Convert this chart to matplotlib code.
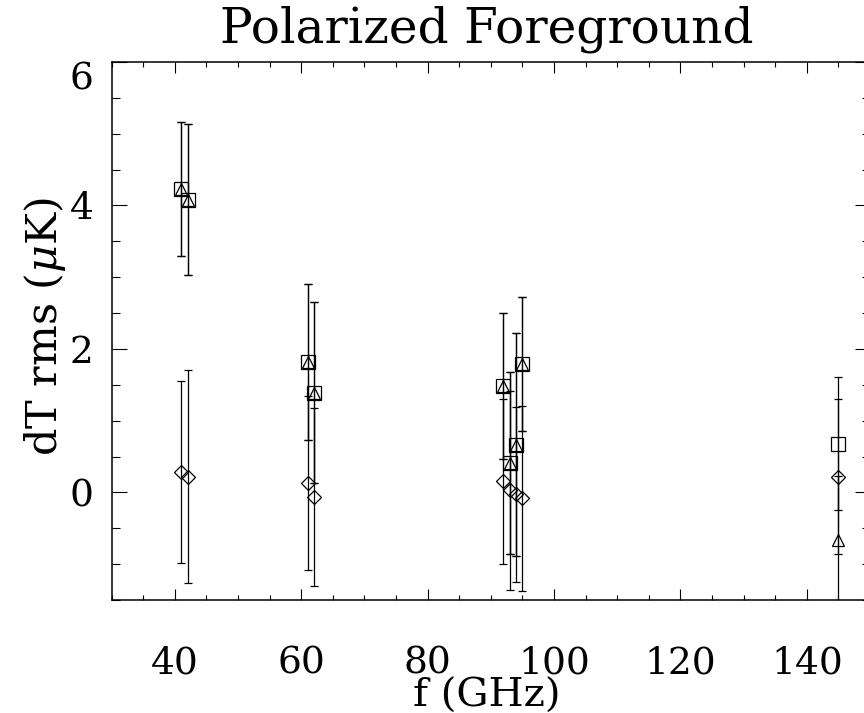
"""Polarized foreground rms vs frequency."""

import matplotlib

matplotlib.use("Agg")
import matplotlib.pyplot as plt
from matplotlib.ticker import MultipleLocator

# values
freq = [41, 42, 61, 62, 92, 93, 94, 95, 145]
square_val = [4.23, 4.08, 1.815, 1.39, 1.486, 0.41, 0.667, 1.79, 0.68]
square_err = [0.93, 1.05, 1.085, 1.265, 1.02, 1.27, 1.56, 0.94, 0.93]
triangle_val = [4.23, 4.08, 1.815, 1.39, 1.486, 0.41, 0.667, 1.79, -0.67]
triangle_err = [0.93, 1.05, 1.085, 1.265, 1.02, 1.27, 1.56, 0.94, 0.9]
diamond_val = [0.28, 0.22, 0.13, -0.07, 0.157, 0.028, -0.028, -0.083, 0.22]
diamond_err = [1.27, 1.48, 1.21, 1.24, 1.15, 1.39, 1.22, 1.29, 1.08]
y_ticks = [0, 2, 4, 6]

plt.rcParams["font.family"] = ["DejaVu Serif"]
plt.rcParams["mathtext.fontset"] = "dejavuserif"

fig = plt.figure(figsize=(8.64, 7.13), dpi=100)
ax = fig.add_axes([111.7 / 864, 113 / 713, 758.3 / 864, 538 / 713])

common = dict(fmt="none", ecolor="black", elinewidth=0.9, capsize=3, capthick=0.9)
ax.errorbar(freq, square_val, yerr=square_err, **common)
ax.errorbar(freq, triangle_val, yerr=triangle_err, **common)
ax.errorbar(freq, diamond_val, yerr=diamond_err, **common)

mk = dict(linestyle="none", color="black", fillstyle="none", markeredgewidth=0.9)
ax.plot(freq, square_val, marker="s", markersize=9.8, **mk)
ax.plot(freq, triangle_val, marker="^", markersize=9.2, **mk)
ax.plot(freq, diamond_val, marker="D", markersize=7, **mk)

ax.set_xlim(30, 150)
ax.set_ylim(-1.5, 6)
ax.xaxis.set_major_locator(MultipleLocator(20))
ax.xaxis.set_minor_locator(MultipleLocator(5))
ax.set_yticks(y_ticks)
ylabels = ax.set_yticklabels([str(v) for v in y_ticks])
ylabels[-1].set_verticalalignment("top")
ax.yaxis.set_minor_locator(MultipleLocator(0.5))

for s in ax.spines.values():
    s.set_linewidth(1.1)
ax.tick_params(which="both", direction="in", top=True, right=True, width=0.8, colors="black")
ax.tick_params(axis="x", which="major", length=8, pad=33, labelsize=27)
ax.tick_params(axis="x", which="minor", length=3.8)
ax.tick_params(axis="y", which="major", length=10.5, pad=13, labelsize=27)
ax.tick_params(axis="y", which="minor", length=5.5)

fig.text(487 / 864, 1 - 29 / 713, "Polarized Foreground", ha="center", va="center", fontsize=35)
fig.text(487 / 864, 1 - 696 / 713, "f (GHz)", ha="center", va="center", fontsize=29)
fig.text(45 / 864, 1 - 326 / 713, r"dT rms ($\mu$K)", ha="center", va="center",
         rotation=90, fontsize=31)

fig.savefig("out.png", dpi=100)
plt.close(fig)
